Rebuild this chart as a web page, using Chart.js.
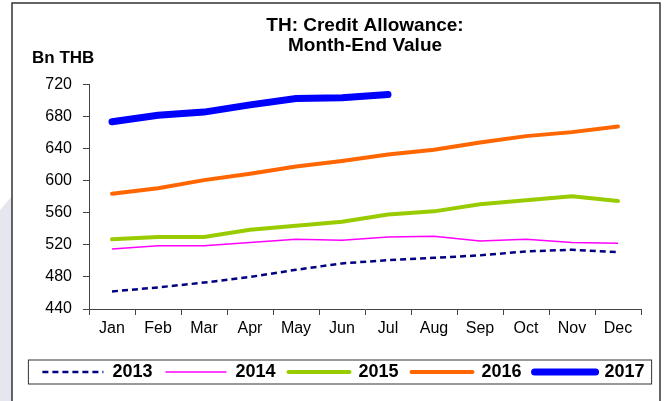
<!DOCTYPE html>
<html>
<head>
<meta charset="utf-8">
<script src="https://cdn.jsdelivr.net/npm/chart.js@4"></script>
<style>
  body { margin: 0; background: #fff; }
  #wrap { width: 667px; height: 401px; }
</style>
</head>
<body>
<div id="wrap"><canvas id="creditChart" width="667" height="401"></canvas></div>
<script>
const months = ['Jan', 'Feb', 'Mar', 'Apr', 'May', 'Jun', 'Jul', 'Aug', 'Sep', 'Oct', 'Nov', 'Dec'];
const years = ['2013', '2014', '2015', '2016', '2017'];
const values2013 = [462, 467, 473, 480, 489, 497, 501, 504, 507, 512, 514, 511];
const values2014 = [515, 519, 519, 523, 527, 526, 530, 531, 525, 527, 523, 522];
const values2015 = [527, 530, 530, 539, 544, 549, 558, 562, 571, 576, 581, 575];
const values2016 = [584, 591, 601, 609, 618, 625, 633, 639, 648, 656, 661, 668];
const values2017 = [674, 682, 686, 695, 703, 704, 708];
const yTicks = [440, 480, 520, 560, 600, 640, 680, 720];

const font = "'Liberation Sans', Arial, sans-serif";

// frame, unit label and legend box
const decorations = {
    id: 'decorations',
    beforeDraw(chart) {
        const ctx = chart.ctx;
        ctx.save();
        ctx.fillStyle = '#fff';
        ctx.fillRect(0, 0, chart.width, chart.height);
        ctx.fillStyle = '#e6e6ef';
        ctx.beginPath();
        ctx.moveTo(0, 210);
        ctx.lineTo(12, 196);
        ctx.lineTo(12, 401);
        ctx.lineTo(0, 401);
        ctx.fill();
        ctx.strokeStyle = '#333';
        ctx.lineWidth = 1.5;
        ctx.strokeRect(12, 3, 648, 410);
        ctx.restore();
    },
    afterDraw(chart) {
        const ctx = chart.ctx;
        ctx.save();
        ctx.fillStyle = '#000';
        ctx.font = "bold 17px " + font;
        ctx.textBaseline = 'middle';
        ctx.fillText('Bn THB', 32, 58);
        const boxes = chart.legend.legendHitBoxes;
        if (boxes && boxes.length) {
            const first = boxes[0];
            const last = boxes[boxes.length - 1];
            ctx.strokeStyle = '#333';
            ctx.lineWidth = 1;
            ctx.strokeRect(first.left - 14, first.top - 3, last.left + last.width + 7 - (first.left - 14), first.height + 6);
        }
        ctx.restore();
    }
};

const ctx = document.getElementById('creditChart').getContext('2d');
const creditChart = new Chart(ctx, {
    type: 'line',
    data: {
        labels: months,
        datasets: [
            {
                label: years[0],
                data: values2013,
                borderColor: '#000080',
                borderWidth: 2.5,
                borderDash: [6, 4]
            },
            {
                label: years[1],
                data: values2014,
                borderColor: '#ff00ff',
                borderWidth: 1.5
            },
            {
                label: years[2],
                data: values2015,
                borderColor: '#99cc00',
                borderWidth: 4,
                borderCapStyle: 'round'
            },
            {
                label: years[3],
                data: values2016,
                borderColor: '#ff6600',
                borderWidth: 4,
                borderCapStyle: 'round'
            },
            {
                label: years[4],
                data: values2017,
                borderColor: '#0000ff',
                borderWidth: 7,
                borderCapStyle: 'round'
            }
        ]
    },
    options: {
        responsive: false,
        animation: false,
        elements: {
            point: { radius: 0 },
            line: { tension: 0, fill: false }
        },
        layout: {
            padding: { left: 20, right: 0, top: 6, bottom: 10 }
        },
        scales: {
            x: {
                offset: true,
                grid: { offset: true, drawOnChartArea: false, tickLength: 6, color: '#444' },
                border: { color: '#444', width: 1 },
                ticks: { color: '#000', padding: 4, font: { family: font, size: 16 } },
                afterFit(scale) { scale.height = 41; }
            },
            y: {
                min: yTicks[0],
                max: yTicks[yTicks.length - 1],
                afterBuildTicks(scale) { scale.ticks = yTicks.map(v => ({ value: v })); },
                grid: { drawOnChartArea: false, tickLength: 6, color: '#444' },
                border: { color: '#444', width: 1 },
                ticks: { color: '#000', padding: 11, font: { family: font, size: 16 } },
                afterFit(scale) { scale.width = 69; }
            },
            // empty right-hand spacer so the plot stops short of the frame
            spacer: {
                type: 'linear',
                position: 'right',
                grid: { display: false },
                border: { display: false },
                ticks: { display: false },
                afterFit(scale) { scale.width = 26; }
            }
        },
        plugins: {
            title: {
                display: true,
                fullSize: false,
                text: ['TH: Credit Allowance:', 'Month-End Value'],
                color: '#000',
                font: { family: font, size: 19, weight: 'bold', lineHeight: 1.05 },
                padding: { top: 10, bottom: 29 }
            },
            legend: {
                position: 'bottom',
                labels: {
                    usePointStyle: true,
                    pointStyle: 'line',
                    pointStyleWidth: 61,
                    padding: 13,
                    color: '#000',
                    font: { family: font, size: 18, weight: 'bold' },
                    generateLabels(chart) {
                        const items = Chart.defaults.plugins.legend.labels.generateLabels(chart);
                        items.forEach(item => {
                            const ds = chart.data.datasets[item.datasetIndex];
                            item.lineWidth = ds.borderWidth;
                            item.lineDash = ds.borderDash || [];
                            item.lineCap = ds.borderCapStyle || 'butt';
                            item.strokeStyle = ds.borderColor;
                        });
                        return items;
                    }
                }
            },
            tooltip: { enabled: false }
        }
    },
    plugins: [decorations]
});
</script>
</body>
</html>
